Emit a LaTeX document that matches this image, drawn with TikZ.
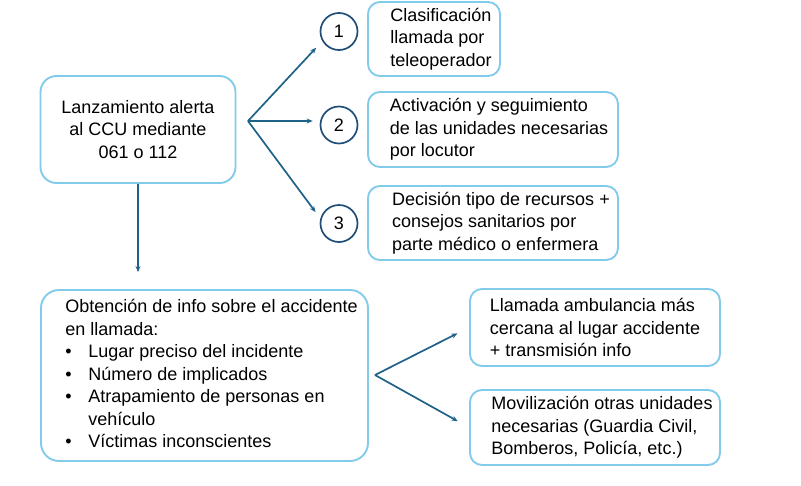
\documentclass[tikz,border=0pt]{standalone}
\usepackage{fontspec}
\setmainfont{Liberation Sans}
\usetikzlibrary{arrows.meta}
\definecolor{boxblue}{HTML}{83CBEB}
\definecolor{arrowblue}{HTML}{1F6287}
\definecolor{ringblue}{HTML}{1F4E79}
% left padding inside a box, moves the text block right by half of #1
\newcommand{\padtxt}[2]{\begin{tabular}{@{\hspace{#1}}l@{}}#2\end{tabular}}

\tikzset{
  stepbox/.style={draw=boxblue, line width=1.9pt, rounded corners=12pt, align=left, inner sep=0pt},
  numcircle/.style={draw=ringblue, circle, line width=1.7pt, minimum size=37pt, inner sep=0pt},
  flow/.style={draw=arrowblue, line width=1.7pt, -{Stealth[length=6pt,width=5pt]}}
}

\begin{document}
\begin{tikzpicture}[x=1pt,y=-1pt,font=\fontsize{18}{22.5}\selectfont]
  \useasboundingbox (0,0) rectangle (801,485);

  \node[stepbox, align=center, minimum width=195pt, minimum height=107pt, rounded corners=16pt]
    (alerta) at (138,129.5) {Lanzamiento alerta\\al CCU mediante\\061 o 112};
  \node[stepbox, minimum width=327pt, minimum height=171pt, rounded corners=18pt]
    (obtencion) at (204.5,375.5) {\padtxt{14pt}{Obtención de info sobre el accidente\\en llamada:\\
      \makebox[23pt][l]{\textbullet}Lugar preciso del incidente\\
      \makebox[23pt][l]{\textbullet}Número de implicados\\
      \makebox[23pt][l]{\textbullet}Atrapamiento de personas en\\
      \hspace*{23pt}vehículo\\
      \makebox[23pt][l]{\textbullet}Víctimas inconscientes}};

  \node[numcircle] (n1) at (339,31.5) {1};
  \node[numcircle] (n2) at (339,125) {2};
  \node[numcircle] (n3) at (339,223.5) {3};

  \node[stepbox, minimum width=132pt, minimum height=74pt] (clasif) at (434,39)
    {\padtxt{14pt}{Clasificación\\llamada por\\teleoperador}};
  \node[stepbox, minimum width=250pt, minimum height=75pt] (activ) at (493,129.5)
    {\padtxt{12pt}{Activación y seguimiento\\de las unidades necesarias\\por locutor}};
  \node[stepbox, minimum width=250pt, minimum height=74pt] (decis) at (493,223)
    {\padtxt{16pt}{Decisión tipo de recursos +\\consejos sanitarios por\\parte médico o enfermera}};
  \node[stepbox, minimum width=250pt, minimum height=77pt] (ambul) at (595,327.5)
    {Llamada ambulancia más\\cercana al lugar accidente\\+ transmisión info};
  \node[stepbox, minimum width=250pt, minimum height=75pt] (movil) at (595,427.5)
    {\padtxt{14pt}{Movilización otras unidades\\necesarias (Guardia Civil,\\Bomberos, Policía, etc.)}};

  \coordinate (fork1) at (248,121);
  \coordinate (fork2) at (375,375);

  \draw[flow, shorten >=9pt] (fork1) -- (n1.210);
  \draw[flow, shorten >=7pt] (fork1) -- (fork1 -| n2.west);
  \draw[flow, shorten >=8pt] (fork1) -- (n3.165);
  \draw[flow, shorten >=17pt] (alerta.south) -- (alerta.south |- obtencion.north);
  \draw[flow, shorten >=13pt] (fork2) -- (ambul.west);
  \draw[flow, shorten >=13pt] (fork2) -- (movil.west);
\end{tikzpicture}
\end{document}
